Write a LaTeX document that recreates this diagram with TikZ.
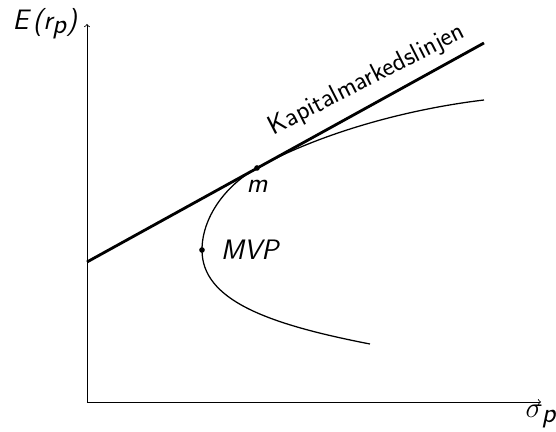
\documentclass[tikz,border=0pt]{standalone}
\usepackage{tikz}
\usetikzlibrary{positioning}

\begin{document}
\begin{tikzpicture}[
      axis/.style={line width=0.6pt, ->},
      cml/.style={line width=2pt},
      frontier/.style={line width=0.9pt},
      lbl/.style={font=\fontsize{20}{22}\selectfont\sffamily\itshape, inner sep=2pt},
      dot/.style={circle, fill, inner sep=0pt, minimum size=4pt}
    ]
    \useasboundingbox (-2.175,-0.75) rectangle (11.725,10.05);
    \coordinate (o) at (0,0);
    \coordinate (ytip) at (0,9.45);
    \coordinate (xtip) at (11.35,0);
    \coordinate (rf) at (0,3.5);
    \coordinate (cmlend) at (9.925,8.975);
    \coordinate (low) at (7.075,1.45);
    \coordinate (high) at (9.925,7.55);
    \node[dot] (m) at (4.25,5.85) {};
    \node[dot] (mvp) at (2.875,3.8) {};

    \draw[axis] (o) -- (ytip);
    \draw[axis] (o) -- (xtip);
    \node[lbl, left=5pt of ytip] (ylab) {E\,(r$_{\textsf{\itshape p}}$)};
    \node[lbl, below=0pt of xtip] (xlab) {$\sigma_{\textsf{\itshape p}}$};

    \draw[frontier] (low) .. controls (4.5,1.95) and (2.875,2.55) .. (mvp.center)
      .. controls (2.875,4.6) and (3.45,5.41) .. (m.center)
      .. controls (5.85,6.73) and (8,7.32) .. (high);
    \draw[cml] (rf) -- (cmlend);
    \node[lbl, font=\fontsize{19}{22}\selectfont\sffamily, anchor=base, rotate=27] (cmllab) at (7.08,7.9) {Kapitalmarkedslinjen};

    \node[lbl, below=4pt of m] (mlab) {m};
    \node[lbl, right=9pt of mvp] (mvplab) {MVP};
  \end{tikzpicture}
\end{document}
